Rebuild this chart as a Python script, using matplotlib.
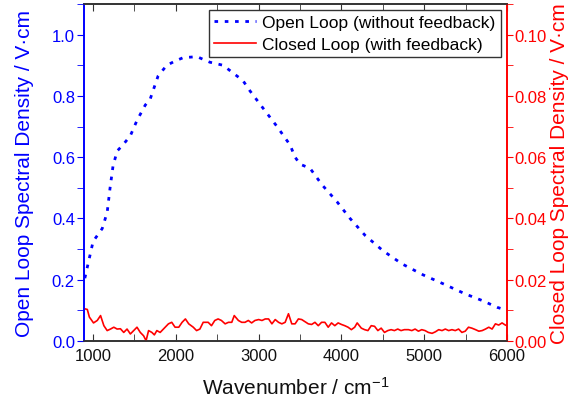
"""Open loop vs closed loop spectral density."""

import matplotlib

matplotlib.use("Agg")

import matplotlib.pyplot as plt
from matplotlib.ticker import MultipleLocator

plt.rcParams.update(
    {
        "font.family": ["Liberation Sans", "DejaVu Sans"],
        "mathtext.fontset": "custom",
        "mathtext.rm": "Liberation Sans",
        "mathtext.default": "regular",
    }
)

open_wn = [900, 1000, 1110, 1170, 1205, 1240, 1290, 1360, 1450, 1530, 1630, 1690,
           1785, 1890, 2000, 2090, 2255, 2410, 2570, 2810, 2896, 3053, 3222, 3379,
           3440, 3500, 3620, 3765, 3945, 4104, 4285, 4500, 4730, 4985, 5227, 5493,
           5710, 5880, 6000]
open_loop = [0.205, 0.325, 0.367, 0.42, 0.50, 0.57, 0.62, 0.64, 0.67, 0.72, 0.77, 0.79,
             0.865, 0.90, 0.915, 0.925, 0.928, 0.91, 0.90, 0.85, 0.816, 0.76, 0.70, 0.64,
             0.60, 0.577, 0.564, 0.51, 0.455, 0.40, 0.345, 0.295, 0.252, 0.216, 0.187, 0.154,
             0.131, 0.11, 0.10]

closed_wn = [900, 930, 955, 1005, 1050, 1090, 1130, 1170, 1210, 1250, 1290, 1330, 1370,
             1410, 1450, 1490, 1530, 1570, 1610, 1640, 1670, 1710, 1740, 1770, 1810, 1850,
             1910, 1950, 1990, 2035, 2075, 2115, 2155, 2210, 2250, 2290, 2330, 2390, 2430,
             2470, 2510, 2550, 2595, 2635, 2675, 2705, 2755, 2795, 2835, 2875, 2915, 2955,
             3000, 3040, 3080, 3120, 3160, 3200, 3240, 3280, 3320, 3360, 3380, 3400, 3440,
             3480, 3520, 3560, 3600, 3640, 3680, 3720, 3760, 3800, 3840, 3880, 3920, 3960,
             4000, 4040, 4080, 4120, 4160, 4190, 4240, 4280, 4320, 4360, 4400, 4440, 4480,
             4520, 4560, 4600, 4640, 4680, 4720, 4760, 4810, 4850, 4890, 4930, 4970, 5010,
             5050, 5095, 5135, 5175, 5215, 5255, 5295, 5335, 5375, 5415, 5455, 5495, 5535,
             5575, 5620, 5660, 5700, 5740, 5780, 5820, 5860, 5900, 5940, 5980, 6000]
closed_loop = [0.0105, 0.0103, 0.0078, 0.0059, 0.0067, 0.0083, 0.0050, 0.0034, 0.0039,
               0.0045, 0.0039, 0.0040, 0.0028, 0.0039, 0.0023, 0.0034, 0.0045, 0.0028,
               0.0017, 0.0001, 0.0034, 0.0028, 0.0020, 0.0034, 0.0028, 0.0039, 0.0056,
               0.0061, 0.0045, 0.0045, 0.0061, 0.0072, 0.0056, 0.0045, 0.0034, 0.0039,
               0.0061, 0.0061, 0.0050, 0.0067, 0.0072, 0.0067, 0.0056, 0.0061, 0.0061,
               0.0083, 0.0067, 0.0061, 0.0061, 0.0067, 0.0059, 0.0067, 0.0070, 0.0067,
               0.0072, 0.0072, 0.0056, 0.0070, 0.0061, 0.0056, 0.0061, 0.0089, 0.0072,
               0.0056, 0.0056, 0.0072, 0.0070, 0.0063, 0.0056, 0.0054, 0.0061, 0.0050,
               0.0061, 0.0061, 0.0045, 0.0059, 0.0050, 0.0059, 0.0054, 0.0050, 0.0045,
               0.0037, 0.0045, 0.0059, 0.0042, 0.0037, 0.0034, 0.0050, 0.0048, 0.0034,
               0.0042, 0.0028, 0.0034, 0.0037, 0.0034, 0.0039, 0.0034, 0.0037, 0.0037,
               0.0034, 0.0039, 0.0032, 0.0037, 0.0034, 0.0028, 0.0025, 0.0030, 0.0037,
               0.0034, 0.0039, 0.0034, 0.0037, 0.0034, 0.0039, 0.0028, 0.0032, 0.0045,
               0.0042, 0.0037, 0.0032, 0.0034, 0.0039, 0.0045, 0.0039, 0.0056, 0.0052,
               0.0059, 0.0052, 0.0050]

BLUE = "#0000ff"
RED = "#ff0000"
FRAME = "#333333"

fig = plt.figure(figsize=(5.74, 4.06), dpi=100)
ax = fig.add_axes([84 / 574, 64 / 406, 423 / 574, 337 / 406])
ax2 = ax.twinx()

l1, = ax.plot(open_wn, open_loop, color=BLUE, linewidth=2.0, linestyle=(0, (1.3, 2.4)),
              label="Open Loop (without feedback)")
l2, = ax2.plot(closed_wn, closed_loop, color=RED, linewidth=1.2,
               label="Closed Loop (with feedback)")

ax.set_xlim(890, 6000)
ax.set_ylim(0, 1.1)
ax2.set_ylim(0, 0.11)

ax.xaxis.set_major_locator(MultipleLocator(1000))
ax.xaxis.set_minor_locator(MultipleLocator(500))
ax.yaxis.set_major_locator(MultipleLocator(0.2))
ax.yaxis.set_minor_locator(MultipleLocator(0.1))
ax2.yaxis.set_major_locator(MultipleLocator(0.02))
ax2.yaxis.set_minor_locator(MultipleLocator(0.01))
ax.yaxis.set_major_formatter(lambda v, p: f"{v:.1f}")
ax2.yaxis.set_major_formatter(lambda v, p: f"{v:.2f}")

ax.tick_params(axis="x", which="both", direction="in", top=True, colors=FRAME,
               labelcolor="#111111", labelsize=12, length=5, pad=5)
ax.tick_params(axis="y", which="both", direction="out", colors=BLUE, labelsize=12,
               length=5, pad=1.5)
ax2.tick_params(axis="y", which="both", direction="out", colors=RED, labelsize=12,
                length=4, pad=1.5)

for a in (ax, ax2):
    a.spines["top"].set_color(FRAME)
    a.spines["bottom"].set_color(FRAME)
    a.spines["left"].set_color(BLUE)
    a.spines["right"].set_color(RED)
    for s in a.spines.values():
        s.set_linewidth(1.2)

ax.set_xlabel("Wavenumber / cm$^{-1}$", fontsize=15, color="#111111", labelpad=9)
ax.set_ylabel("Open Loop Spectral Density / V\u00b7cm", fontsize=15, color=BLUE, labelpad=13)
ax2.set_ylabel("Closed Loop Spectral Density / V\u00b7cm", fontsize=15, color=RED, labelpad=2)

leg = ax2.legend([l1, l2], [l1.get_label(), l2.get_label()], loc="upper right",
                 fontsize=12.5, frameon=True, fancybox=False, framealpha=1,
                 edgecolor=FRAME, borderpad=0.3, handlelength=2.4, handletextpad=0.4,
                 labelspacing=0.35, borderaxespad=0.35)
leg.get_frame().set_linewidth(1.0)

fig.savefig("out.png", dpi=100)
